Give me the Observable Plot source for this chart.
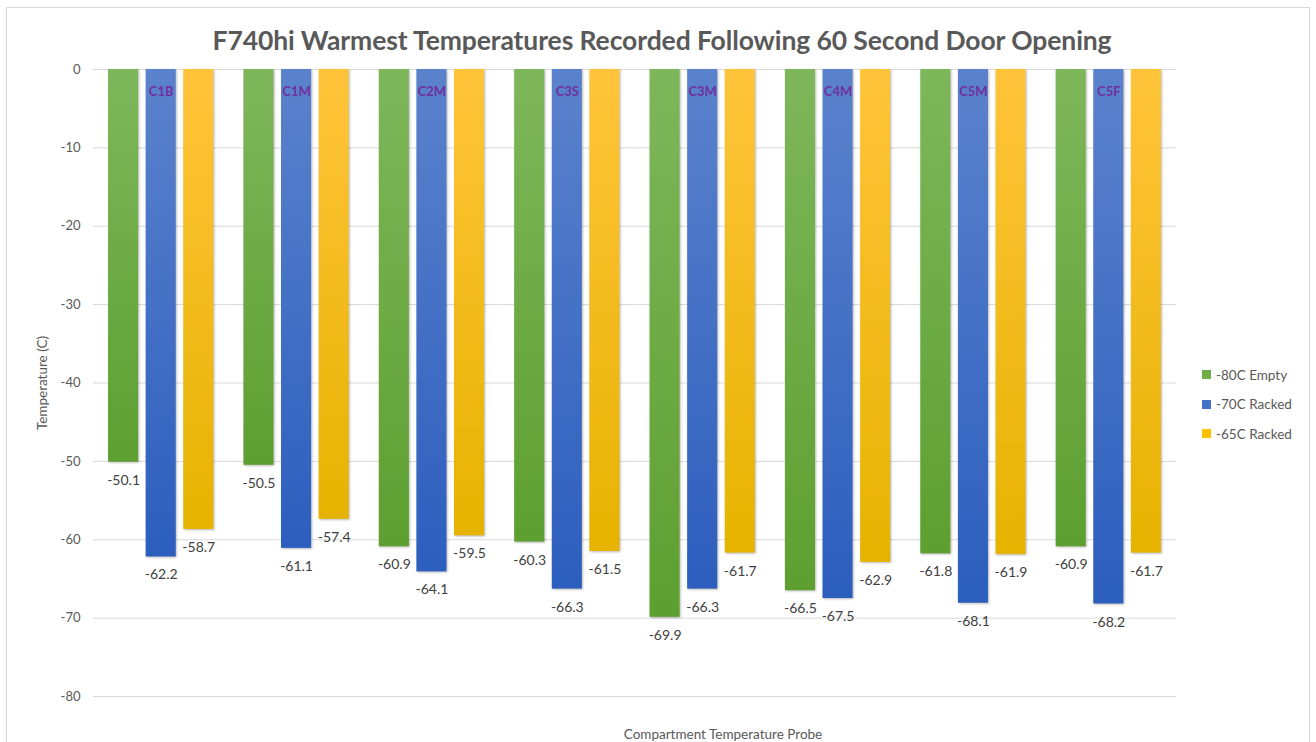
<!DOCTYPE html>
<html>
<head>
<meta charset="utf-8">
<script src="https://cdn.jsdelivr.net/npm/d3@7"></script>
<script src="https://cdn.jsdelivr.net/npm/@observablehq/plot@0.6"></script>
<style>
  body { margin: 0; background: #fff; font-family: Lato, "Open Sans", sans-serif; }
  #wrap { position: relative; width: 1316px; height: 742px; overflow: hidden; background: #fff; }
  #frame { position: absolute; left: 6px; top: 7px; width: 1304px; height: 760px; border: 1px solid #d9d9d9; box-sizing: border-box; pointer-events: none; }
  #title { position: absolute; left: 4px; top: 23px; width: 1316px; text-align: center; font-size: 26.5px; font-weight: 700; color: #595959; line-height: 34px; white-space: nowrap; letter-spacing: -0.1px; }
  #chart { position: absolute; left: 0; top: 0; }
  #xtitle { position: absolute; left: 523px; width: 400px; top: 726px; text-align: center; font-size: 13.5px; color: #595959; }
  #legend { position: absolute; left: 1202px; top: 360px; font-size: 13.5px; color: #595959; }
  #legend .item { display: flex; align-items: center; height: 29.5px; }
  #legend .sw { width: 9px; height: 9px; margin-right: 5px; }
  svg g[aria-label="bar"] rect { filter: drop-shadow(1px 1px 1.2px rgba(0,0,0,0.28)); }
</style>
</head>
<body>
<div id="wrap">
  <div id="frame"></div>
  <div id="title">F740hi Warmest Temperatures Recorded Following 60 Second Door Opening</div>
  <div id="chart"></div>
  <div id="legend"></div>
  <div id="xtitle">Compartment Temperature Probe</div>
</div>
<script>
const categories = ["C1B", "C1M", "C2M", "C3S", "C3M", "C4M", "C5M", "C5F"];
const seriesNames = ["-80C Empty", "-70C Racked", "-65C Racked"];
const empty80 = [-50.1, -50.5, -60.9, -60.3, -69.9, -66.5, -61.8, -60.9];
const racked70 = [-62.2, -61.1, -64.1, -66.3, -66.3, -67.5, -68.1, -68.2];
const racked65 = [-58.7, -57.4, -59.5, -61.5, -61.7, -62.9, -61.9, -61.7];
const yTicks = [0, -10, -20, -30, -40, -50, -60, -70, -80];
const legendColors = ["#70ad47", "#4472c4", "#ffc000"];
const gradients = [
  ["#7eb75b", "#5d9f30"],
  ["#5b82cc", "#2c5ebe"],
  ["#ffc43a", "#e6b300"]
];

const seriesValues = [empty80, racked70, racked65];
const data = categories.flatMap((c, i) =>
  seriesNames.map((s, k) => ({ category: c, series: s, value: seriesValues[k][i] }))
);

const chart = Plot.plot({
  width: 1316,
  height: 742,
  marginLeft: 93,
  marginRight: 140,
  marginTop: 69,
  marginBottom: 46,
  style: { fontFamily: "Lato, 'Open Sans', sans-serif", background: "transparent", color: "#595959" },
  fx: { domain: categories, padding: 0, axis: null, round: false },
  x: { domain: seriesNames, paddingInner: 0.2, paddingOuter: 0.4, axis: null, round: false },
  y: { domain: [-80, 0] },
  marks: [
    Plot.gridY(yTicks, { stroke: "#d9d9d9", strokeOpacity: 1 }),
    Plot.axisY(yTicks, {
      tickSize: 0, tickPadding: 13, tickFormat: d => String(d),
      fill: "#595959", fontSize: 13,
      label: "Temperature (C)", labelAnchor: "center", labelOffset: 56, labelArrow: "none"
    }),
    ...seriesNames.map((s, k) =>
      Plot.barY(data.filter(d => d.series === s), {
        fx: "category", x: "series", y1: d => 0, y2: "value", fill: `url(#grad${k})`
      })
    ),
    Plot.text(data, {
      fx: "category", x: "series", y: "value", text: d => d.value.toFixed(1),
      dy: 18, fill: "#404040", fontSize: 14
    }),
    Plot.text(data.filter(d => d.series === seriesNames[1]), {
      fx: "category", x: "series", y: d => 0, text: "category",
      dy: 22, fill: "#7030a0", fontSize: 13, fontWeight: "bold"
    })
  ]
});

const defs = d3.select(chart).insert("defs", ":first-child");
gradients.forEach((g, k) => {
  const lg = defs.append("linearGradient").attr("id", `grad${k}`)
    .attr("x1", 0).attr("y1", 0).attr("x2", 0).attr("y2", 1);
  lg.append("stop").attr("offset", 0).attr("stop-color", g[0]);
  lg.append("stop").attr("offset", 1).attr("stop-color", g[1]);
});

d3.select(chart).selectAll("text")
  .filter(function () { return this.textContent === "Temperature (C)"; })
  .style("font-size", "13.5px")
  .attr("fill", "#595959");

document.getElementById("chart").appendChild(chart);

const legend = d3.select("#legend");
seriesNames.forEach((s, k) => {
  const item = legend.append("div").attr("class", "item");
  item.append("div").attr("class", "sw").style("background", legendColors[k]);
  item.append("span").text(s);
});
</script>
</body>
</html>
